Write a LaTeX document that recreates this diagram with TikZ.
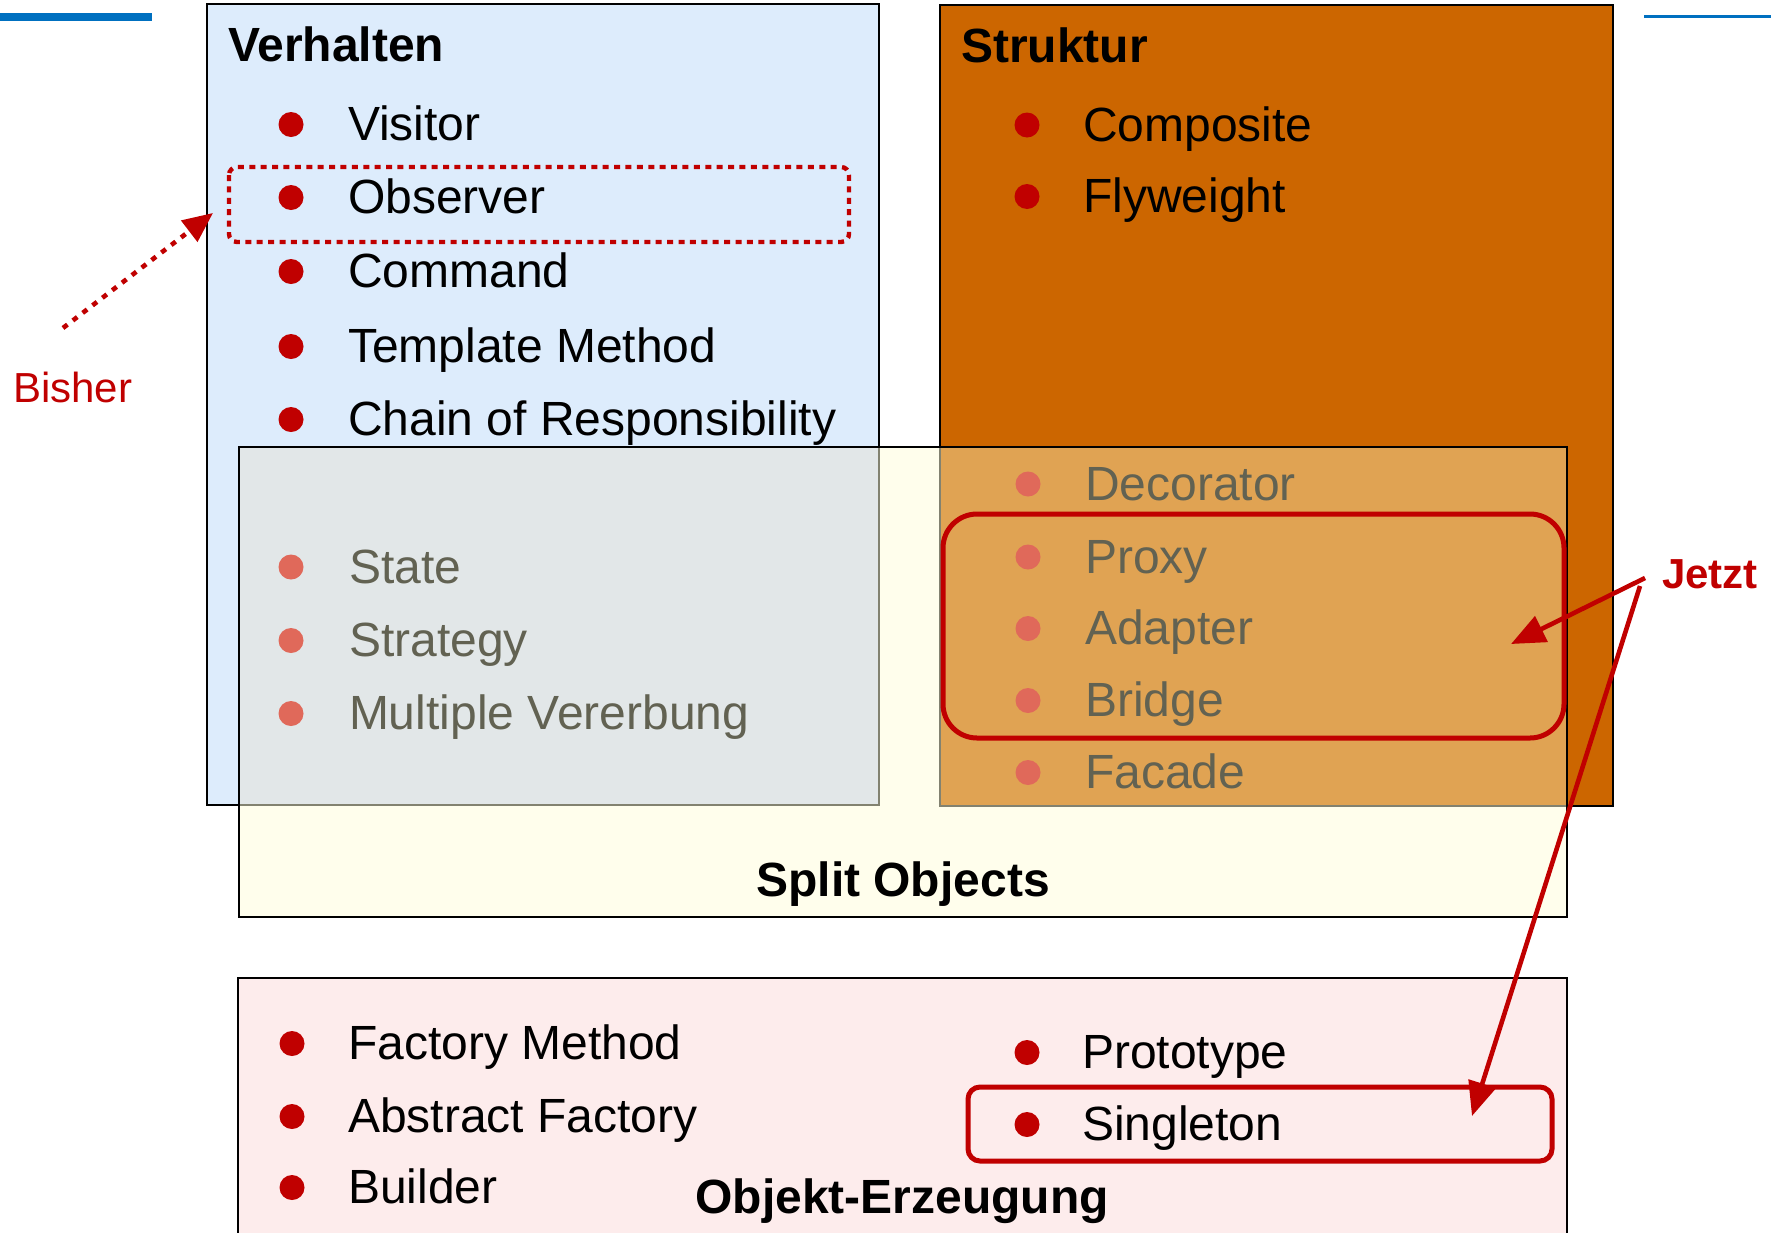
\documentclass[tikz,border=0pt]{standalone}
\usepackage{fontspec}
\setmainfont{Liberation Sans}
\usetikzlibrary{arrows.meta}

\definecolor{hlred}{RGB}{192,0,0}
\definecolor{verhaltenfill}{RGB}{221,236,252}
\definecolor{strukturfill}{RGB}{204,102,0}
\definecolor{splitfill}{RGB}{255,254,236}
\definecolor{splitblue}{RGB}{226,231,232}
\definecolor{splitorange}{RGB}{224,163,83}
\definecolor{splitedge}{RGB}{130,130,112}
\definecolor{fadetext}{RGB}{98,98,82}
\definecolor{fadedot}{RGB}{224,105,90}
\definecolor{erzeugfill}{RGB}{253,236,236}
\definecolor{rulerblue}{RGB}{0,112,192}

\begin{document}
\begin{tikzpicture}[x=0.5pt,y=-0.5pt,
  every node/.style={inner sep=0pt, outer sep=0pt},
  panel/.style={draw=black, line width=1pt},
  entry/.style={anchor=base west, font=\fontsize{24}{28}\selectfont},
  fadedentry/.style={entry, text=fadetext},
  heading/.style={anchor=base west, font=\bfseries\fontsize{24}{28}\selectfont},
  dot/.style={circle, fill=hlred, minimum size=12.5pt},
  fadeddot/.style={dot, fill=fadedot},
  remark/.style={anchor=base west, text=hlred, font=\fontsize{21}{25}\selectfont},
  highlight/.style={draw=hlred, line width=2.5pt},
  pointer/.style={draw=hlred, line width=2.3pt, -{Triangle[length=17pt,width=14pt]}},
  dottedpointer/.style={draw=hlred, line width=2.3pt, dash pattern=on 2.8pt off 3.4pt,
    -{Triangle[length=15pt,width=13pt]}},
]
\useasboundingbox (0,0) rectangle (1771,1232);
\clip (0,0) rectangle (1771,1232);

% header rules
\fill[rulerblue] (0,12.5) rectangle (152,20.5);
\fill[rulerblue] (1644,14.5) rectangle (1771,17.5);

% split objects background
\fill[splitfill] (239,447) rectangle (1567,917);

% behaviour and structure panels
\draw[panel, fill=verhaltenfill] (207,4) rectangle (879,805);
\draw[panel, fill=strukturfill] (940,5) rectangle (1613,806);

% creation panel
\draw[panel, fill=erzeugfill] (238,978) rectangle (1567,1260);

% shared regions of the split objects panel
\draw[splitedge, line width=1pt, fill=splitblue] (239,447) rectangle (879,805);
\draw[splitedge, line width=1pt, fill=splitorange] (940,447) rectangle (1567,806);
\draw[panel] (239,447) rectangle (1567,917);

% Verhalten
\node[heading] (verhalten) at (228,61) {Verhalten};
\node[dot] (d1) at (291,124.5) {};
\node[entry] (visitor) at (348,140) {Visitor};
\node[dot] (d2) at (291,197.5) {};
\node[entry] (observer) at (348,213) {Observer};
\node[dot] (d3) at (291,271.5) {};
\node[entry] (command) at (348,287) {Command};
\node[dot] (d4) at (291,346.5) {};
\node[entry] (template) at (348,362) {Template Method};
\node[dot] (d5) at (291,419.5) {};
\node[entry] (chain) at (348,435) {Chain of Responsibility};

% Struktur
\node[heading] (struktur) at (961,62) {Struktur};
\node[dot] (d6) at (1027,125) {};
\node[entry] (composite) at (1083,141) {Composite};
\node[dot] (d7) at (1027,196.5) {};
\node[entry] (flyweight) at (1083,212) {Flyweight};

% faded entries, behaviour side
\node[fadeddot] (d8) at (291,567) {};
\node[fadedentry] (state) at (349,583) {State};
\node[fadeddot] (d9) at (291,640.5) {};
\node[fadedentry] (strategy) at (349,656) {Strategy};
\node[fadeddot] (d10) at (291,713.5) {};
\node[fadedentry] (multiple) at (349,729) {Multiple Vererbung};

% faded entries, structure side
\node[fadeddot] (d11) at (1028,484) {};
\node[fadedentry] (decorator) at (1085,500) {Decorator};
\node[fadeddot] (d12) at (1028,557) {};
\node[fadedentry] (proxy) at (1085,573) {Proxy};
\node[fadeddot] (d13) at (1028,628.5) {};
\node[fadedentry] (adapter) at (1085,644) {Adapter};
\node[fadeddot] (d14) at (1028,700.5) {};
\node[fadedentry] (bridge) at (1085,716) {Bridge};
\node[fadeddot] (d15) at (1028,772.5) {};
\node[fadedentry] (facade) at (1085,788) {Facade};

\node[heading, anchor=base] (split) at (903,896) {Split Objects};

% Objekt-Erzeugung
\node[dot] (d16) at (292,1043.5) {};
\node[entry] (factory) at (348,1059) {Factory Method};
\node[dot] (d17) at (292,1116.5) {};
\node[entry] (abstract) at (348,1132) {Abstract Factory};
\node[dot] (d18) at (292,1187.5) {};
\node[entry] (builder) at (348,1203) {Builder};
\node[dot] (d19) at (1027,1052.5) {};
\node[entry] (prototype) at (1082,1068) {Prototype};
\node[dot] (d20) at (1027,1124.5) {};
\node[entry] (singleton) at (1082,1140) {Singleton};
\node[heading, anchor=base] (erzeugung) at (902,1213) {Objekt-Erzeugung};

% highlights
\draw[draw=hlred, line width=2.2pt, dash pattern=on 3pt off 2.7pt, rounded corners=4pt]
  (229,167) rectangle (849,242);
\draw[highlight, rounded corners=17pt] (943,514) rectangle (1564,738);
\draw[highlight, rounded corners=6pt] (968,1087) rectangle (1552,1161);

% annotations
\node[remark] (bisher) at (13,402) {Bisher};
\node[remark, font=\bfseries\fontsize{21}{25}\selectfont] (jetzt) at (1662,588) {Jetzt};

\coordinate (bisherfrom) at (63,328);
\coordinate (bishertip) at (213,213);
\draw[dottedpointer] (bisherfrom) -- (bishertip);

\coordinate (jetztfromA) at (1645,578);
\coordinate (jetzttipA) at (1511,644);
\coordinate (jetztfromB) at (1640,586);
\coordinate (jetzttipB) at (1472,1116);
\draw[pointer] (jetztfromA) -- (jetzttipA);
\draw[pointer] (jetztfromB) -- (jetzttipB);
\end{tikzpicture}
\end{document}
